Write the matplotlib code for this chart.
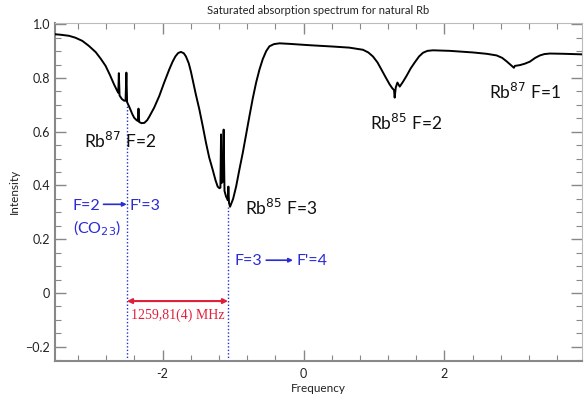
import matplotlib
matplotlib.use("Agg")
import matplotlib.pyplot as plt
from matplotlib.ticker import FixedLocator, MultipleLocator

# ---- data ----
freq = [-3.54, -3.45, -3.33, -3.24, -3.14, -3.05, -2.95, -2.88, -2.81, -2.75,
        -2.69, -2.66, -2.645, -2.630, -2.622, -2.612, -2.58, -2.55, -2.527, -2.515,
        -2.505, -2.47, -2.43, -2.404, -2.37, -2.352, -2.343, -2.333, -2.30, -2.26,
        -2.22, -2.19, -2.12, -2.048, -1.98, -1.906, -1.86, -1.82, -1.78, -1.74,
        -1.70, -1.669, -1.63, -1.60, -1.575, -1.53, -1.479, -1.43, -1.384, -1.34,
        -1.290, -1.25, -1.219, -1.195, -1.180, -1.171, -1.160, -1.145, -1.134, -1.122,
        -1.100, -1.075, -1.067, -1.058, -1.043, -1.00, -0.957, -0.91, -0.863, -0.815,
        -0.768, -0.72, -0.673, -0.625, -0.579, -0.53, -0.484, -0.42, -0.341, -0.2,
        0.085, 0.417, 0.65, 0.844, 0.92, 0.986, 1.05, 1.105, 1.165, 1.223,
        1.26, 1.285, 1.294, 1.31, 1.333, 1.366, 1.41, 1.461, 1.52, 1.579,
        1.64, 1.697, 1.76, 1.839, 2.076, 2.408, 2.60, 2.741, 2.82, 2.883,
        2.94, 2.987, 3.00, 3.073, 3.14, 3.215, 3.29, 3.357, 3.42, 3.499,
        3.70, 3.95]
intensity = [0.963, 0.961, 0.957, 0.950, 0.938, 0.920, 0.896, 0.872, 0.845, 0.812,
             0.776, 0.760, 0.752, 0.745, 0.818, 0.735, 0.722, 0.716, 0.715, 0.820,
             0.710, 0.690, 0.665, 0.652, 0.643, 0.640, 0.686, 0.636, 0.632, 0.633,
             0.643, 0.656, 0.690, 0.733, 0.782, 0.832, 0.860, 0.880, 0.893, 0.897,
             0.892, 0.880, 0.855, 0.825, 0.795, 0.740, 0.683, 0.620, 0.558, 0.505,
             0.459, 0.420, 0.396, 0.390, 0.392, 0.590, 0.410, 0.415, 0.608, 0.380,
             0.359, 0.345, 0.396, 0.335, 0.321, 0.350, 0.396, 0.460, 0.521, 0.590,
             0.658, 0.725, 0.783, 0.832, 0.870, 0.900, 0.918, 0.926, 0.929, 0.927,
             0.922, 0.917, 0.913, 0.905, 0.895, 0.880, 0.858, 0.832, 0.803, 0.776,
             0.762, 0.755, 0.727, 0.765, 0.783, 0.768, 0.785, 0.807, 0.835, 0.858,
             0.880, 0.894, 0.901, 0.903, 0.901, 0.895, 0.890, 0.884, 0.875, 0.862,
             0.849, 0.838, 0.845, 0.848, 0.853, 0.861, 0.875, 0.884, 0.889, 0.891,
             0.890, 0.888]

xticks = [-2, 0, 2]
xticklabels = ["-2", "0", "2"]
yticks = [-0.2, 0, 0.2, 0.4, 0.6, 0.8, 1.0]
yticklabels = ["\u22120.2", "0", "0.2", "0.4", "0.6", "0.8", "1.0"]

transition_x = [-2.508, -1.071]
transition_top = [0.70, 0.32]
gap_label = "1259,81(4) MHz"

plt.rcParams['font.family'] = ['Lato', 'DejaVu Sans']

fig = plt.figure(figsize=(5.84, 3.97), dpi=100)
ax = fig.add_axes([0.094, 0.0907, 0.9026, 0.8523])

ax.plot(freq, intensity, color='black', lw=1.4, zorder=3, solid_joinstyle='round')

ax.set_xlim(-3.53, 3.954)
ax.set_ylim(-0.253, 1.006)

# dotted vertical transition lines
for xv, top in zip(transition_x, transition_top):
    ax.plot([xv, xv], [-0.253, top], color='#2030d0', lw=1.0, ls=(0, (1, 1.5)), zorder=2)

# red double arrow
ax.annotate('', xy=(transition_x[1], -0.03), xytext=(transition_x[0], -0.03),
            arrowprops=dict(arrowstyle='<|-|>', color='#e0203a', lw=1.5,
                            mutation_scale=7, shrinkA=0, shrinkB=0))
ax.text(sum(transition_x) / 2, -0.095, gap_label, color='#e0203a',
        family='Liberation Serif', fontsize=10, ha='center', va='baseline')

# species labels
lab_kw = dict(fontsize=12.5, color='#111111', va='baseline', ha='left')
ax.text(-3.115, 0.541, r'Rb$^{87}$ F=2', **lab_kw)
ax.text(-0.825, 0.290, r'Rb$^{85}$ F=3', **lab_kw)
ax.text(0.949, 0.608, r'Rb$^{85}$ F=2', **lab_kw)
ax.text(2.636, 0.720, r'Rb$^{87}$ F=1', **lab_kw)

# blue transition labels
blue = '#2a2ad6'
bkw = dict(fontsize=11.5, color=blue, va='baseline', ha='left')
ax.text(-3.28, 0.309, 'F=2', **bkw)
ax.annotate('', xy=(-2.51, 0.33), xytext=(-2.84, 0.33),
            arrowprops=dict(arrowstyle='-|>', color=blue, lw=1.2,
                            mutation_scale=6, shrinkA=0, shrinkB=0))
ax.text(-2.465, 0.309, "F'=3", **bkw)
ax.text(-3.28, 0.223, r'(CO$_{23}$)', **bkw)
ax.text(-0.98, 0.104, 'F=3', **bkw)
ax.annotate('', xy=(-0.15, 0.122), xytext=(-0.53, 0.122),
            arrowprops=dict(arrowstyle='-|>', color=blue, lw=1.2,
                            mutation_scale=6, shrinkA=0, shrinkB=0))
ax.text(-0.095, 0.104, "F'=4", **bkw)

# axes styling
ax.set_title('Saturated absorption spectrum for natural Rb', fontsize=8,
             color='#222222', pad=6)
ax.set_xlabel('Frequency', fontsize=8.5, color='#222222', labelpad=2)
ax.set_ylabel('Intensity', fontsize=8.5, color='#222222', labelpad=4)

ax.xaxis.set_major_locator(FixedLocator(xticks))
ax.set_xticklabels(xticklabels)
ax.xaxis.set_minor_locator(MultipleLocator(0.4))
ax.yaxis.set_major_locator(FixedLocator(yticks))
ax.set_yticklabels(yticklabels)
ax.yaxis.set_minor_locator(MultipleLocator(0.05))

ax.tick_params(which='both', direction='in', top=True, right=True,
               colors='#888888', labelcolor='#222222', labelsize=9)
ax.tick_params(which='major', length=8, width=1.0)
ax.tick_params(which='minor', length=4, width=0.8)
ax.tick_params(axis='x', pad=5)

for side in ['left', 'bottom']:
    ax.spines[side].set_color('#888888')
    ax.spines[side].set_linewidth(1.5)
for side in ['top', 'right']:
    ax.spines[side].set_color('#bbbbbb')
    ax.spines[side].set_linewidth(0.8)

fig.savefig('out.png', dpi=100)
